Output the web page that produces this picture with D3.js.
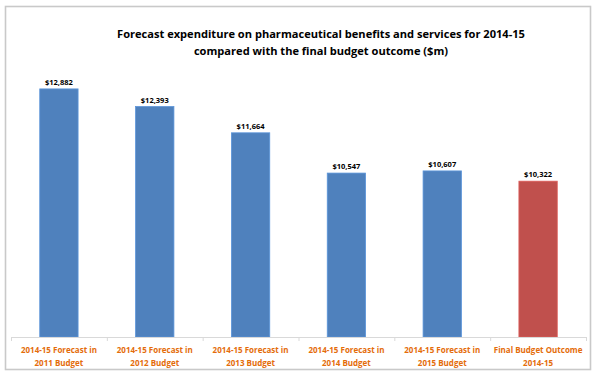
<!DOCTYPE html>
<html><head><meta charset="utf-8">
<script src="https://cdn.jsdelivr.net/npm/d3@7"></script>
<style>body{margin:0;background:#fff}svg{display:block}</style>
</head><body>
<script>
const categories = [
  ["2014-15 Forecast in", "2011 Budget"],
  ["2014-15 Forecast in", "2012 Budget"],
  ["2014-15 Forecast in", "2013 Budget"],
  ["2014-15 Forecast in", "2014 Budget"],
  ["2014-15 Forecast in", "2015 Budget"],
  ["Final Budget Outcome", "2014-15"]
];
const values = [12882, 12393, 11664, 10547, 10607, 10322];
const barColors = ["#4F81BD", "#4F81BD", "#4F81BD", "#4F81BD", "#4F81BD", "#C0504D"];
const titleLines = ["Forecast expenditure on pharmaceutical benefits and services for 2014-15",
                    "compared with the final budget outcome ($m)"];
const yDomain = [6000, 14000];

const W = 600, H = 377;
const font = "'Open Sans', 'Liberation Sans', sans-serif";
const svg = d3.select("body").append("svg").attr("width", W).attr("height", H);

// frame
svg.append("rect").attr("x", 5.5).attr("y", 6.5).attr("width", 585).attr("height", 363)
  .attr("fill", "#fff").attr("stroke", "#c9c9c9").attr("stroke-width", 1.6);

const x = d3.scaleBand().domain(d3.range(values.length)).range([11, 586]).paddingInner(0.6).paddingOuter(0.3);
const y = d3.scaleLinear().domain(yDomain).range([337, 48.6]);

// title
const tg = svg.append("g");
titleLines.forEach((t, i) => {
  tg.append("text").attr("x", 321).attr("y", 38 + i * 17).attr("text-anchor", "middle")
    .attr("font-family", font).attr("font-weight", "bold").attr("font-size", 14)
    .attr("fill", "#000").text(t);
});
// fit title width
const t0 = tg.select("text").node();
const w0 = t0.getComputedTextLength();
const fs = 14 * 408 / w0;
tg.selectAll("text").attr("font-size", fs);

// bars
svg.append("g").selectAll("rect").data(values).join("rect")
  .attr("x", (d, i) => x(i)).attr("width", x.bandwidth())
  .attr("y", d => y(d)).attr("height", d => y(yDomain[0]) - y(d))
  .attr("fill", (d, i) => barColors[i])
  .attr("stroke", (d, i) => d3.color(barColors[i]).brighter(0.4)).attr("stroke-width", 0.8);

// value labels
const fmt = d3.format(",");
const vl = svg.append("g").selectAll("text").data(values).join("text")
  .attr("x", (d, i) => x(i) + x.bandwidth() / 2).attr("y", d => y(d) - 4)
  .attr("text-anchor", "middle").attr("font-family", font).attr("font-weight", "bold")
  .attr("font-size", 10).attr("fill", "#000").text(d => "$" + fmt(d));
const vw = vl.node().getComputedTextLength();
vl.attr("font-size", 10 * 28 / vw);

// axis
const xAxis = d3.axisBottom(d3.scaleLinear().domain([0, values.length]).range([11, 586]))
  .ticks(values.length).tickValues(d3.range(values.length + 1)).tickSize(4).tickFormat("");
const ag = svg.append("g").attr("transform", `translate(0,${y(yDomain[0])})`).call(xAxis);
ag.select(".domain").attr("stroke", "#d9d9d9").attr("d", "M11,0.5H586");
ag.selectAll(".tick line").attr("stroke", "#d9d9d9");

// category labels
const cg = svg.append("g").selectAll("text").data(categories).join("text")
  .attr("x", (d, i) => x(i) + x.bandwidth() / 2).attr("y", 353)
  .attr("text-anchor", "middle").attr("font-family", font).attr("font-weight", "bold")
  .attr("font-size", 10).attr("fill", "#E46C0A");
cg.selectAll("tspan").data(d => d).join("tspan")
  .attr("x", function() { return this.parentNode.getAttribute("x"); })
  .attr("dy", (d, i) => i === 0 ? 0 : 12.5).text(d => d);
const cw = cg.select("tspan").node().getComputedTextLength();
cg.attr("font-size", 10 * 76 / cw);
</script>
</body></html>
